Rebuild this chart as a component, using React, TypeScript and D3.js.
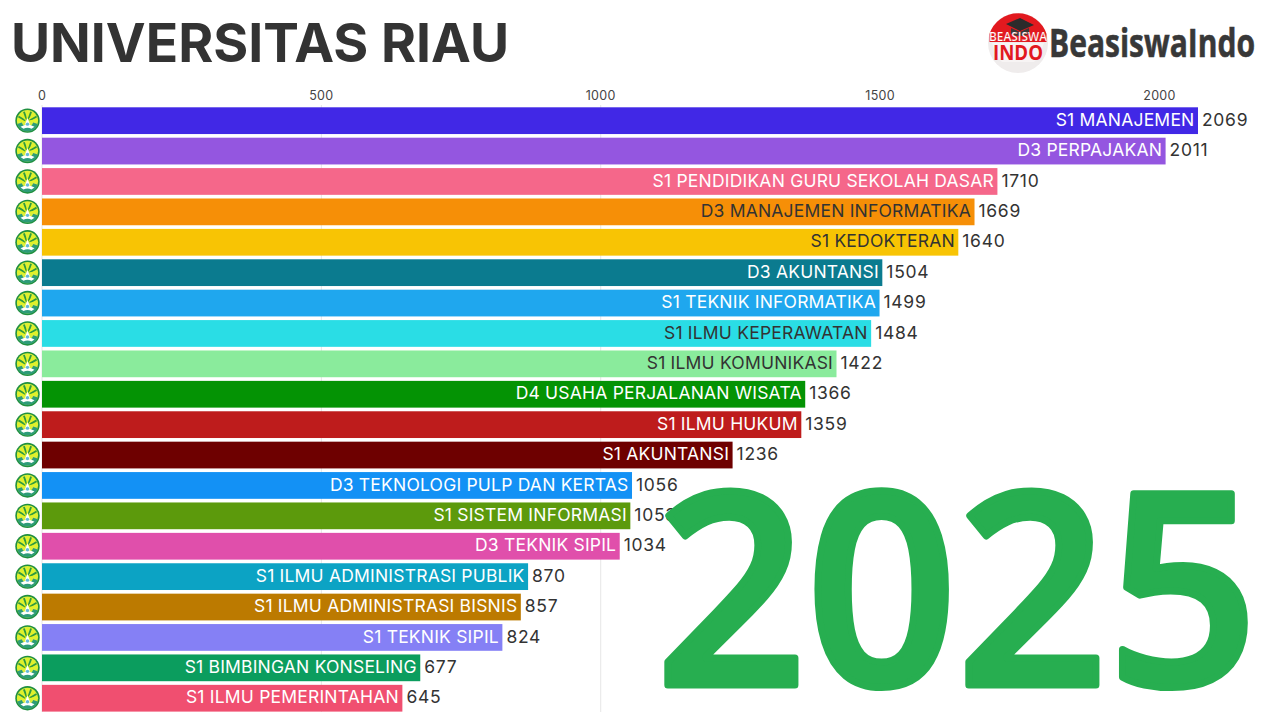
import React from "react";
import { scaleBand, scaleLinear, range, arc } from "d3";

const programs = [
  "S1 MANAJEMEN",
  "D3 PERPAJAKAN",
  "S1 PENDIDIKAN GURU SEKOLAH DASAR",
  "D3 MANAJEMEN INFORMATIKA",
  "S1 KEDOKTERAN",
  "D3 AKUNTANSI",
  "S1 TEKNIK INFORMATIKA",
  "S1 ILMU KEPERAWATAN",
  "S1 ILMU KOMUNIKASI",
  "D4 USAHA PERJALANAN WISATA",
  "S1 ILMU HUKUM",
  "S1 AKUNTANSI",
  "D3 TEKNOLOGI PULP DAN KERTAS",
  "S1 SISTEM INFORMASI",
  "D3 TEKNIK SIPIL",
  "S1 ILMU ADMINISTRASI PUBLIK",
  "S1 ILMU ADMINISTRASI BISNIS",
  "S1 TEKNIK SIPIL",
  "S1 BIMBINGAN KONSELING",
  "S1 ILMU PEMERINTAHAN",
];
const values = [2069, 2011, 1710, 1669, 1640, 1504, 1499, 1484, 1422, 1366, 1359, 1236, 1056, 1053, 1034, 870, 857, 824, 677, 645];
const barColors = [
  "#4128e6", "#9456e0", "#f5678a", "#f68f07", "#f8c404", "#0b7b8f", "#1fa7ee", "#2adde5", "#8aeb9c", "#049304",
  "#be1c1c", "#6e0000", "#1391f5", "#5c9a0c", "#e04fab", "#0ca3c4", "#bc7a00", "#8580f5", "#0b9d5e", "#f04f70",
];
const labelColors = [
  "#fff", "#fff", "#fff", "#333", "#333", "#fff", "#fff", "#333", "#333", "#fff",
  "#fff", "#fff", "#fff", "#fff", "#fff", "#fff", "#fff", "#fff", "#fff", "#fff",
];
const ticks = [0, 500, 1000, 1500, 2000];
const gridTicks = [0, 500, 1000];

const x = scaleLinear().domain([0, 2069]).range([42, 1198]);
const y = scaleBand<string>().domain(programs).range([107.3, 711.6]).paddingInner(0.12).paddingOuter(0);

const uiFont = "Inter, 'Open Sans', sans-serif";
const headFont = "'Open Sans', sans-serif";

const wreath = range(-4, 5).map((d) => (d * Math.PI) / 9);
const lowerArc = arc<any>()({ innerRadius: 6, outerRadius: 10.8, startAngle: Math.PI * 0.6, endAngle: Math.PI * 1.4 } as any) ?? "";

function Emblem({ cy }: { cy: number }) {
  return (
    <g transform={`translate(27.5,${cy})`}>
      <circle r={12.2} fill="#1f8f3f" />
      <circle r={10.6} fill="#dcef3a" />
      {wreath.map((a, i) => (
        <line
          key={i}
          x1={Math.sin(a) * 2.5}
          y1={-Math.cos(a) * 2.5 + 1}
          x2={Math.sin(a) * 10.5}
          y2={-Math.cos(a) * 10.5 + 1}
          stroke={i % 2 ? "#2f9a3e" : "#e2f226"}
          strokeWidth={1.8}
        />
      ))}
      <path d={lowerArc} fill="#2d9c78" />
      <path d="M-7,6 Q0,2 7,6 L4,8 Q0,6 -4,8 Z" fill="#fff" />
      <path d="M0,-3 L2.6,4 L-2.6,4 Z" fill="#fff" />
      <circle cy={3.5} r={1.7} fill="#63b7da" />
    </g>
  );
}

function BrandLogo() {
  return (
    <g>
      <circle cx={1018} cy={43} r={30} fill="#efecec" />
      <path d="M989.5,34 A30,30 0 0 1 1046.5,34 L1046.5,42 L989.5,42 Z" fill="#e2191f" />
      <path d="M992,43 L1044,43 Q1039,58 1034,62 L1002,62 Q996,58 992,43 Z" fill="#f7f4f4" />
      <path d="M1006,24 L1020,18 L1034,25 L1020,31 Z" fill="#2b2b2b" />
      <path d="M1011,28 L1011,34 Q1020,38 1029,34 L1029,28 L1020,32 Z" fill="#3a3a3a" />
      <text x={1018} y={41} textAnchor="middle" fontFamily={headFont} fontWeight={600} fontSize={13} fill="#fff" stroke="#e2191f" strokeWidth={0.2} textLength={58} lengthAdjust="spacingAndGlyphs">
        BEASISWA
      </text>
      <text x={1018} y={60} textAnchor="middle" fontFamily={headFont} fontWeight={700} fontSize={22} fill="#e2191f" textLength={50} lengthAdjust="spacingAndGlyphs">
        INDO
      </text>
      <text x={1049} y={57} fontFamily={headFont} fontWeight={700} fontSize={40} fill="#383838" stroke="#383838" strokeWidth={0.6} textLength={206} lengthAdjust="spacingAndGlyphs">
        BeasiswaIndo
      </text>
    </g>
  );
}

export default function App() {
  return (
    <svg
      width={1280}
      height={720}
      viewBox="0 0 1280 720"
      style={{ position: "fixed", left: 0, top: 0, background: "#fff" }}
    >
      <text x={11} y={62} fontFamily={uiFont} fontWeight={700} fontSize={53.5} fill="#333" textLength={498} lengthAdjust="spacingAndGlyphs">
        UNIVERSITAS RIAU
      </text>
      <BrandLogo />

      {/* axis */}
      {gridTicks.map((t) => (
        <line key={t} x1={x(t)} x2={x(t)} y1={105} y2={712} stroke="#e6e6e6" strokeWidth={1} />
      ))}
      {ticks.map((t) => (
        <text key={t} x={x(t)} y={100} textAnchor="middle" fontFamily={uiFont} fontSize={12.5} letterSpacing={0.3} fill="#444">
          {t}
        </text>
      ))}

      {/* bars */}
      {programs.map((p, i) => {
        const top = y(p) ?? 0;
        const h = y.bandwidth();
        const cy = top + h / 2;
        return (
          <g key={p}>
            <Emblem cy={cy} />
            <rect x={x(0)} y={top} width={x(values[i]) - x(0)} height={h} fill={barColors[i]} />
            <text x={x(values[i]) - 3.5} y={cy + 5.2} textAnchor="end" fontFamily={uiFont} fontSize={17.5} letterSpacing={0.2} fill={labelColors[i]}>
              {p}
            </text>
            <text x={x(values[i]) + 4} y={cy + 5.2} fontFamily={uiFont} fontSize={17.5} letterSpacing={0.7} fill="#333">
              {values[i]}
            </text>
          </g>
        );
      })}

      <text x={656} y={685} fontFamily={headFont} fontWeight={600} fontSize={268} fill="#27ae50" stroke="#27ae50" strokeWidth={7} strokeLinejoin="round" textLength={602} lengthAdjust="spacingAndGlyphs">
        2025
      </text>
    </svg>
  );
}
